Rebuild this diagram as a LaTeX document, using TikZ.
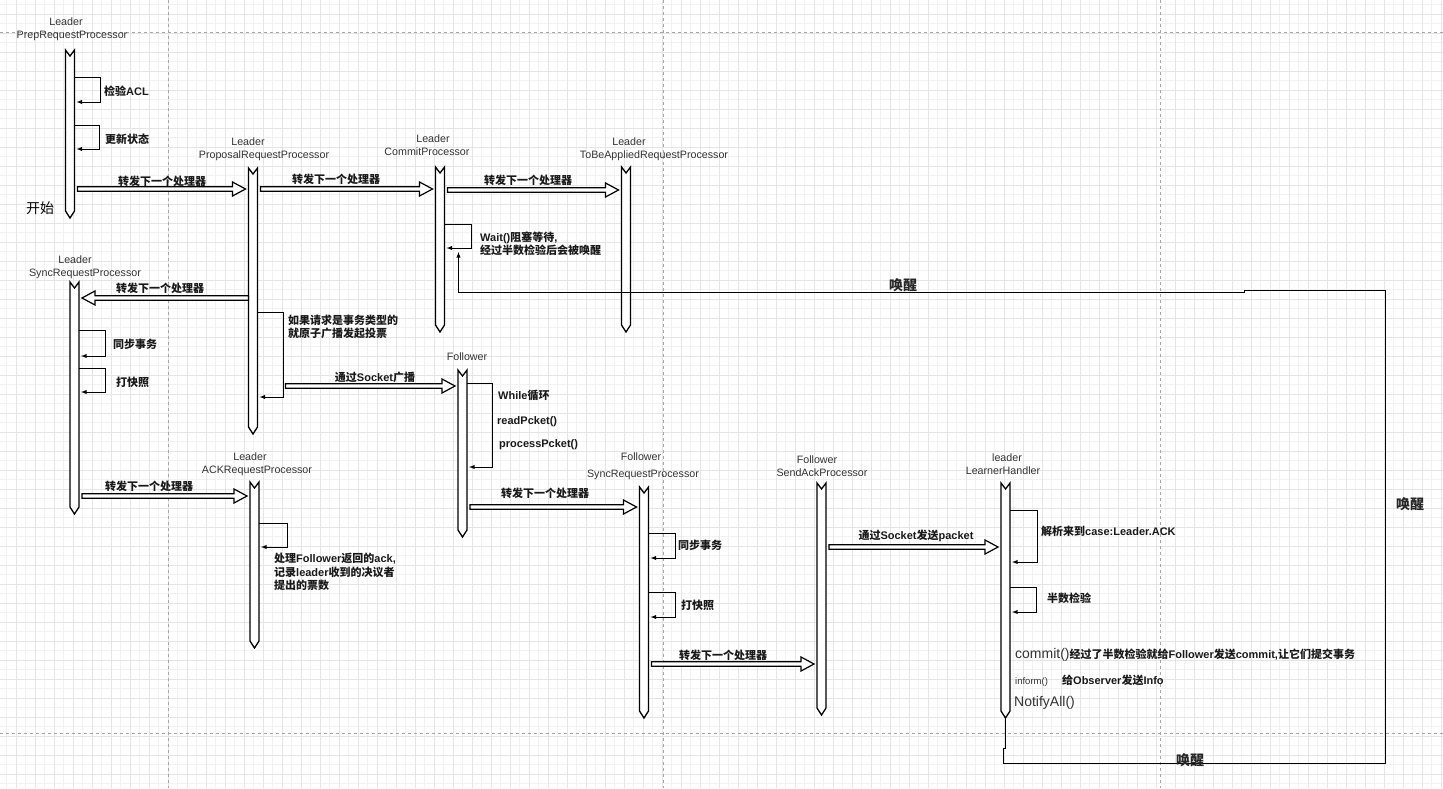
\documentclass[tikz,border=0pt]{standalone}
\usepackage{fontspec}
\setmainfont{Liberation Sans}
\newfontfamily\cjk{Noto Sans CJK SC}
\usepackage{tikz}
\usetikzlibrary{calc, positioning}

\newcommand{\zh}[1]{{\cjk #1}}
% lifeline: name, x, top, bottom
\newcommand{\lifebar}[4]{%
  \pgfmathsetmacro{\barh}{#4-#3}
  \node[bar, minimum height=\barh pt] (#1) at (#2,{(#3+#4)/2}) {};
  \draw[barline] (#1.north west) -- ([yshift=-6pt]#1.north) -- (#1.north east)
    -- ([yshift=7pt]#1.south east) -- (#1.south) -- ([yshift=7pt]#1.south west) -- cycle;
}
% block arrow between two bars at height y
\newcommand{\sendarrow}[4][3]{%
  \draw[fwd] let \p1=($(#2 |- 0,#4)!#1pt!(#3 |- 0,#4)$),
                 \p2=($(#3 |- 0,#4)!3pt!(#2 |- 0,#4)$),
                 \p3=($(\p2)!13pt!(\p1)$) in
    (\x1,\y1+2.2pt) -- (\x3,\y1+2.2pt) -- (\x3,\y1+7pt) -- (\x2,\y2)
    -- (\x3,\y1-7pt) -- (\x3,\y1-2.2pt) -- (\x1,\y1-2.2pt) -- cycle;
}
% self call on a bar: bar, top y, bottom y, width
\newcommand{\selfloop}[4]{%
  \draw[loopline] (#1.east |- 0,#2) -- ++(#4,0) |- ($(#1.east |- 0,#3)+(2,0)$);
}

\begin{document}
\begin{tikzpicture}[x=1pt, y=-1pt, >=latex,
    bar/.style={rectangle, minimum width=9pt, inner sep=0pt, outer sep=0pt},
    barline/.style={draw=black, fill=white, line width=1.3pt},
    fwd/.style={draw=black, fill=white, line width=1.2pt},
    loopline/.style={->, line width=0.9pt},
    head/.style={font=\fontsize{10.7}{12.5}\selectfont, align=center, text=black!80, inner sep=0pt},
    msg/.style={font=\bfseries\fontsize{11}{13.5}\selectfont, inner sep=0pt, align=left, text=black!90},
    note/.style={msg, anchor=west},
    wake/.style={font=\cjk\bfseries\fontsize{14}{16}\selectfont, inner sep=0pt, text=black!85},
    gridminor/.style={black!5, line width=0.4pt},
    gridmajor/.style={black!10, line width=0.5pt},
    pagebreak/.style={black!35, dashed, line width=0.5pt}]
    \useasboundingbox (0,0) rectangle (1443,788);

    % grid
    \foreach \gx in {6.5,16,...,1443} \draw[gridminor] (\gx,0) -- (\gx,788);
    \foreach \gy in {4.5,14,...,788} \draw[gridminor] (0,\gy) -- (1443,\gy);
    \foreach \gx in {16,35,...,1443} \draw[gridmajor] (\gx,0) -- (\gx,788);
    \foreach \gy in {14,33,...,788} \draw[gridmajor] (0,\gy) -- (1443,\gy);
    \draw[pagebreak] (168,0) -- (168,788);
    \draw[pagebreak] (663,0) -- (663,788);
    \draw[pagebreak] (1160,0) -- (1160,788);
    \draw[pagebreak] (0,32) -- (1443,32);
    \draw[pagebreak] (0,733) -- (1443,733);

    % Leader
    \node[head] (preplabel) at (72,29) {\hspace*{-12pt}Leader\\PrepRequestProcessor};
    \node[head] (proposallabel) at (264,149) {\hspace*{-32pt}Leader\\ProposalRequestProcessor};
    \node[head] (commitlabel) at (427,145) {\hspace*{12pt}Leader\\CommitProcessor};
    \node[head] (tobelabel) at (654,149) {\hspace*{-50pt}Leader\\ToBeAppliedRequestProcessor};
    \node[head] (synclabel) at (85,267) {\hspace*{-20pt}Leader\\SyncRequestProcessor};
    \node[head] (acklabel) at (257,464) {\hspace*{-14pt}Leader\\ACKRequestProcessor};
    % Follower
    \node[head] (followerlabel) at (467,357) {Follower};
    \node[head, font=\fontsize{10.7}{17}\selectfont] (fsynclabel) at (643,466) {\hspace*{-4pt}Follower\\SyncRequestProcessor};
    \node[head] (sendacklabel) at (822,466) {\hspace*{-10pt}Follower\\SendAckProcessor};
    \node[head] (learnerlabel) at (1003,464) {\hspace*{8pt}leader\\LearnerHandler};

    \lifebar{prep}{70}{50}{218}
    \lifebar{proposal}{253}{168}{434}
    \lifebar{commit}{440}{167}{332}
    \lifebar{tobe}{626}{167}{332}
    \lifebar{sync}{74.5}{282}{514}
    \lifebar{ack}{254.5}{482}{648}
    \lifebar{follower}{462.5}{370}{537}
    \lifebar{fsync}{644}{487}{718}
    \lifebar{sendack}{821.5}{483}{715}
    \lifebar{learner}{1005.5}{483}{718}

    \node[font=\cjk\fontsize{14}{16}\selectfont, anchor=west, inner sep=0pt] (start) at (26,208) {开始};

    % forwarding
    \sendarrow{prep.east}{proposal.west}{189}
    \sendarrow{proposal.east}{commit.west}{189}
    \sendarrow{commit.east}{tobe.west}{190}
    \sendarrow[0]{proposal.west}{sync.east}{298}
    \sendarrow{sync.east}{ack.west}{496}
    \sendarrow[28]{proposal.east}{follower.west}{386}
    \sendarrow{follower.east}{fsync.west}{507}
    \sendarrow{fsync.east}{sendack.west}{664}
    \sendarrow{sendack.east}{learner.west}{547}

    \node[msg] (fwdprep) at (162,181) {\zh{转发下一个处理器}};
    \node[msg] (fwdproposal) at (336,179) {\zh{转发下一个处理器}};
    \node[msg] (fwdcommit) at (528,180) {\zh{转发下一个处理器}};
    \node[msg] (fwdsync) at (160,288) {\zh{转发下一个处理器}};
    \node[msg] (fwdack) at (149,486) {\zh{转发下一个处理器}};
    \node[msg] (broadcast) at (375,377) {\zh{通过}Socket\zh{广播}};
    \node[msg] (fwdfollower) at (545,493) {\zh{转发下一个处理器}};
    \node[msg] (fwdfsync) at (723,655) {\zh{转发下一个处理器}};
    \node[msg] (sendpacket) at (916,536) {\zh{通过}Socket\zh{发送}packet};

    % self calls
    \selfloop{prep}{77}{102}{26}
    \selfloop{prep}{125}{149}{25}
    \selfloop{commit}{224}{248}{27}
    \selfloop{proposal}{312}{397}{26}
    \selfloop{sync}{330}{356}{26}
    \selfloop{sync}{368}{392}{26}
    \selfloop{follower}{383}{467}{25}
    \selfloop{ack}{523}{547}{28}
    \selfloop{fsync}{533}{558}{27}
    \selfloop{fsync}{592}{617}{27}
    \selfloop{learner}{510}{562}{27}
    \selfloop{learner}{587}{612}{26}

    \node[note] (aclnote) at (104,91) {\zh{检验}ACL};
    \node[note] (statenote) at (105,139) {\zh{更新状态}};
    \node[note] (waitnote) at (480,244) {Wait()\zh{阻塞等待},\\\zh{经过半数检验后会被唤醒}};
    \node[note] (votenote) at (288,327) {\zh{如果请求是事务类型的}\\\zh{就原子广播发起投票}};
    \node[note] (syncnote) at (113,344) {\zh{同步事务}};
    \node[note] (snapnote) at (116,382) {\zh{打快照}};
    \node[note] (whilenote) at (498,395) {While\zh{循环}};
    \node[note] (readnote) at (497,422) {readPcket()};
    \node[note] (procnote) at (499,445) {processPcket()};
    \node[note] (acknote) at (274,572) {\zh{处理}Follower\zh{返回的}ack,\\\zh{记录}leader\zh{收到的决议者}\\\zh{提出的票数}};
    \node[note] (fsyncnote) at (678,545) {\zh{同步事务}};
    \node[note] (fsnapnote) at (681,605) {\zh{打快照}};
    \node[note] (parsenote) at (1041,531) {\zh{解析来到}case:Leader.ACK};
    \node[note] (halfnote) at (1047,598) {\zh{半数检验}};
    \node[note] (commitnote) at (1015,655) {{\mdseries\fontsize{14}{16}\selectfont\color{black!80}commit()}\zh{经过了半数检验就给}Follower\zh{发送}commit,\zh{让它们提交事务}};
    \node[anchor=west, inner sep=0pt, text=black!80, font=\fontsize{9.5}{11}\selectfont] (informnote) at (1015,682) {inform()};
    \node[note] (observernote) at (1062,680) {\zh{给}Observer\zh{发送}Info};
    \node[anchor=west, inner sep=0pt, text=black!80, font=\fontsize{14}{16}\selectfont] (notifynote) at (1014,703) {NotifyAll()};

    % wake up CommitProcessor
    \draw[loopline] (learner.south) -- ++(0,30) -- ++(-2,0) |- (1385,763) |- (1244,290)
        -- ++(0,2.5) -| ($(commit.east |- 0,252)+(14,0)$);
    \node[wake] (waketop) at (903,285) {唤醒};
    \node[wake] (wakeright) at (1410,504) {唤醒};
    \node[wake] (wakebottom) at (1190,760) {唤醒};
\end{tikzpicture}
\end{document}
